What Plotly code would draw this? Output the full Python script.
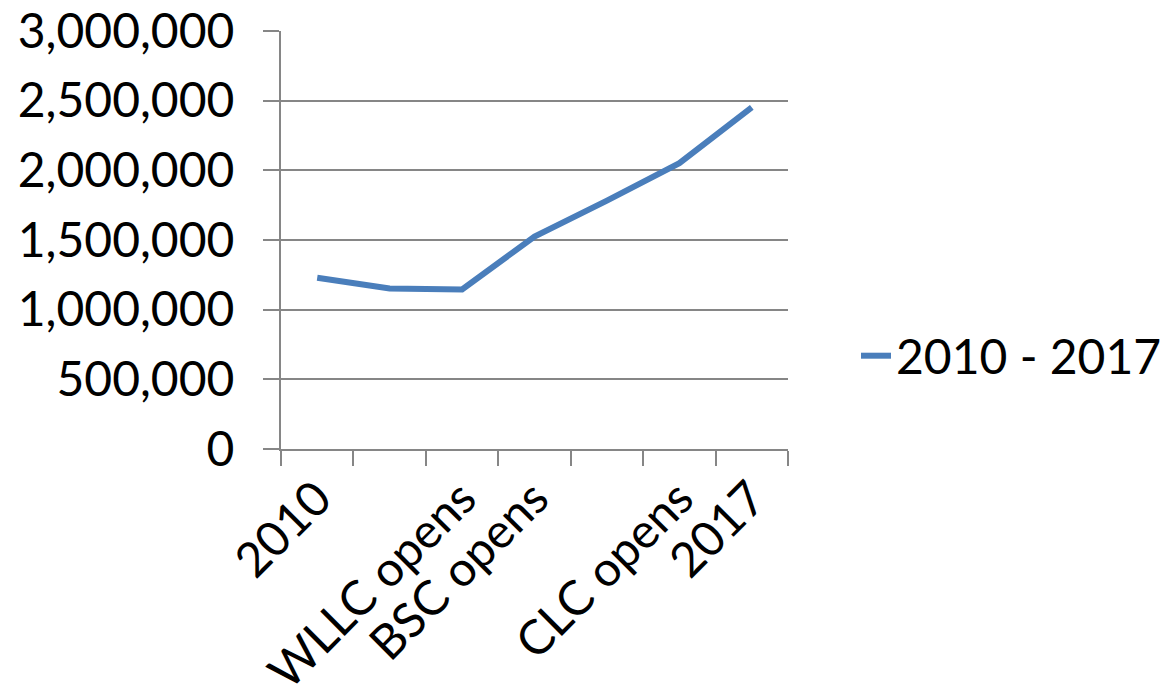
import plotly.graph_objects as go

# Category labels along the x axis (blank slots are intermediate years)
categories = ["2010", "", "WLLC opens", "BSC opens", "", "CLC opens", "2017"]
values = [1229000, 1152000, 1145000, 1525000, 1783000, 2052000, 2452000]
series_name = "2010 - 2017"

y_ticks = [0, 500000, 1000000, 1500000, 2000000, 2500000, 3000000]

FONT = "Lato"
FONT_SIZE = 48
GRAY = "#868686"
BLUE = "#4A7EBB"

x_pos = list(range(len(categories)))
boundaries = [i - 0.5 for i in range(len(categories) + 1)]

fig = go.Figure()
fig.add_trace(go.Scatter(
    x=x_pos,
    y=values,
    mode="lines",
    name=series_name,
    line=dict(color=BLUE, width=6),
))

fig.update_layout(
    width=1169,
    height=696,
    margin=dict(l=281, r=381, t=31, b=247, autoexpand=False),
    paper_bgcolor="white",
    plot_bgcolor="white",
    font=dict(family=FONT, size=FONT_SIZE, color="black"),
    showlegend=True,
    legend=dict(
        x=(856 - 281) / 507,
        xanchor="left",
        y=(449 - 356) / 418,
        yanchor="middle",
        font=dict(family=FONT, size=FONT_SIZE, color="black"),
        bgcolor="rgba(0,0,0,0)",
        itemwidth=30,
    ),
    xaxis=dict(
        range=[-0.5, len(categories) - 0.5],
        tickmode="array",
        tickvals=x_pos,
        ticktext=categories,
        tickangle=-45,
        ticks="",
        automargin=False,
        showgrid=False,
        zeroline=False,
        showline=True,
        linecolor=GRAY,
        linewidth=2,
        minor=dict(
            tickmode="array",
            tickvals=boundaries,
            ticks="outside",
            ticklen=15,
            tickwidth=2,
            tickcolor=GRAY,
            showgrid=False,
        ),
        tickfont=dict(family=FONT, size=FONT_SIZE, color="black"),
    ),
    yaxis=dict(
        range=[0, 3000000],
        tickmode="array",
        tickvals=y_ticks,
        tickformat=",",
        ticks="outside",
        ticklen=16,
        tickwidth=2,
        tickcolor=GRAY,
        ticklabelstandoff=19,
        automargin=False,
        showgrid=True,
        gridcolor=GRAY,
        gridwidth=2,
        zeroline=False,
        showline=True,
        linecolor=GRAY,
        linewidth=2,
        tickfont=dict(family=FONT, size=FONT_SIZE, color="black"),
    ),
)

fig.write_html("out.html")
